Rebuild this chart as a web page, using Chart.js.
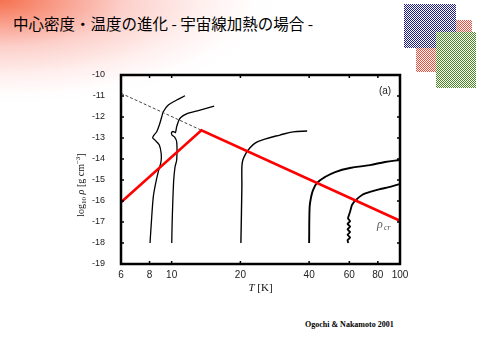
<!DOCTYPE html>
<html>
<head>
<meta charset="utf-8">
<script src="https://cdn.jsdelivr.net/npm/chart.js@4/dist/chart.umd.min.js"></script>
<style>
  html, body { margin: 0; padding: 0; background: #fff; }
  #wrap { position: relative; width: 480px; height: 360px; overflow: hidden; }
  .glow { position: absolute; left: 0; top: 0; width: 300px; height: 110px;
    background: radial-gradient(280px 105px at 0 0, rgba(245,105,70,0.95) 0%, rgba(247,130,105,0.8) 20%, rgba(250,170,160,0.55) 45%, rgba(253,205,200,0.3) 72%, rgba(255,235,235,0.1) 90%, rgba(255,255,255,0) 100%); }
  #title { position: absolute; left: 13px; top: 12px; font: 15.5px "Noto Sans CJK JP"; color: #000; white-space: nowrap; }
  #credit { position: absolute; left: 305px; top: 320px; font: bold 8px "Liberation Serif"; color: #000; white-space: nowrap; }
  canvas { position: absolute; left: 0; top: 0; }
</style>
</head>
<body>
<div id="wrap">
  <div class="glow"></div>
  <div id="title">中心密度・温度の進化 - 宇宙線加熱の場合 -</div>
  <div id="credit">Ogochi &amp; Nakamoto 2001</div>
  <canvas id="chart" width="480" height="360"></canvas>
</div>
<script>
// 軸
const xTicks = [6, 8, 10, 20, 40, 60, 80, 100];
const yTicks = [-19, -18, -17, -16, -15, -14, -13, -12, -11, -10];

// 臨界密度線 (赤) と点線
const critT = [6, 13.5, 100];
const critRho = [-16.06, -12.63, -16.94];
const dashT = [6, 13.5];
const dashRho = [-10.87, -12.63];

// 進化トラック (T [K], log rho)
const track8T = [8.04, 8.18, 8.31, 8.51, 8.74, 8.98, 9.0, 8.83, 8.45, 8.26, 8.37, 8.6, 8.83, 9.05, 9.19, 9.67, 10.52, 11.44];
const track8Rho = [-18.0, -16.75, -15.8, -15.16, -14.6, -14.13, -13.75, -13.33, -13.1, -12.99, -12.86, -12.7, -12.38, -11.99, -11.75, -11.43, -11.19, -10.99];

const track10T = [10.01, 10.04, 10.11, 10.21, 10.35, 10.52, 10.52, 10.29, 10.04, 9.98, 10.14, 10.38, 10.52, 10.88, 11.83, 13.31, 15.35];
const track10Rho = [-18.0, -17.22, -16.11, -15.0, -14.37, -14.05, -13.18, -12.95, -12.86, -12.76, -12.69, -12.74, -12.46, -12.06, -11.82, -11.67, -11.48];

const track20T = [20.1, 20.3, 20.3, 20.5, 21.2, 22.0, 23.2, 25.6, 29.8, 34.0, 39.2];
const track20Rho = [-18.0, -15.33, -14.38, -14.05, -13.71, -13.48, -13.24, -13.05, -12.86, -12.71, -12.67];

const track40T = [40.0, 40.2, 40.8, 41.6, 43.3, 46.9, 52.0, 60.4, 73.9, 86.0, 100];
const track40Rho = [-18.0, -16.29, -15.81, -15.48, -15.14, -14.86, -14.62, -14.43, -14.29, -14.14, -14.05];

const track60T = [59.4, 58.9, 60.5, 58.9, 60.5, 58.9, 60.5, 58.9, 60.5, 59.2, 60.4, 61.6, 64.2, 68.2, 73.9, 81.8, 90.5, 100];
const track60Rho = [-18.0, -17.87, -17.74, -17.61, -17.48, -17.35, -17.22, -17.09, -16.96, -16.83, -16.52, -16.19, -15.95, -15.71, -15.57, -15.43, -15.33, -15.19];

// 右上の飾り (x, y, w, h, 色)
const blocks = [
    [404, 4, 52, 44, '#1c1c8e'],
    [456, 20, 16, 12, '#f04a3a'],
    [416, 48, 20, 24, '#f04a3a'],
    [436, 32, 40, 56, '#4a8a22']
];

const pts = (xs, ys) => xs.map((v, i) => ({ x: v, y: ys[i] }));
const track = (xs, ys, w, t) => ({
    data: pts(xs, ys), borderColor: '#000', borderWidth: w, pointRadius: 0, tension: t, fill: false
});

Chart.defaults.font.family = '"Liberation Sans", Arial, sans-serif';

const checker = {
    id: 'checker',
    beforeDraw(chart) {
        const ctx = chart.ctx;
        ctx.save();
        blocks.forEach(([bx, by, bw, bh, c]) => {
            ctx.fillStyle = c;
            for (let j = 0; j < bh; j++)
                for (let i = (j % 2); i < bw; i += 2) ctx.fillRect(bx + i, by + j, 1, 1);
        });
        ctx.restore();
    }
};

// 枠・目盛・注記
const decor = {
    id: 'decor',
    afterDatasetsDraw(chart) {
        const { ctx, chartArea: a, scales: { x, y } } = chart;
        ctx.save();
        ctx.strokeStyle = '#000';
        ctx.lineWidth = 1.5;
        ctx.beginPath();
        xTicks.forEach(v => {
            const px = x.getPixelForValue(v);
            ctx.moveTo(px, a.bottom); ctx.lineTo(px, a.bottom - 3);
            ctx.moveTo(px, a.top); ctx.lineTo(px, a.top + 3);
        });
        yTicks.forEach(v => {
            const py = y.getPixelForValue(v);
            ctx.moveTo(a.left, py); ctx.lineTo(a.left + 3, py);
            ctx.moveTo(a.right, py); ctx.lineTo(a.right - 3, py);
        });
        ctx.stroke();
        ctx.lineWidth = 2.5;
        ctx.strokeRect(a.left, a.top, a.right - a.left, a.bottom - a.top);

        ctx.fillStyle = '#222';
        ctx.font = '10px "Liberation Sans"';
        ctx.textAlign = 'center';
        ctx.textBaseline = 'middle';
        ctx.fillText('(a)', a.right - 15, a.top + 16);

        // rho_cr
        ctx.fillStyle = '#555';
        ctx.textAlign = 'left';
        ctx.textBaseline = 'alphabetic';
        ctx.font = 'italic 12px "Liberation Serif"';
        ctx.fillText('ρ', 377, 228);
        ctx.font = 'italic 8px "Liberation Serif"';
        ctx.fillText('cr', 384, 230);

        // x title
        ctx.fillStyle = '#111';
        ctx.font = 'italic 11px "Liberation Serif"';
        const tW = ctx.measureText('T').width;
        ctx.font = '11px "Liberation Serif"';
        const kW = ctx.measureText(' [K]').width;
        const sx = (a.left + a.right) / 2 - (tW + kW) / 2;
        ctx.font = 'italic 11px "Liberation Serif"';
        ctx.fillText('T', sx, 291);
        ctx.font = '11px "Liberation Serif"';
        ctx.fillText(' [K]', sx + tW, 291);

        // y title
        ctx.translate(84, 185);
        ctx.rotate(-Math.PI / 2);
        const parts = [
            ['log', '10px "Liberation Serif"', 0],
            ['10', '7px "Liberation Serif"', 2],
            [' ', '10px "Liberation Serif"', 0],
            ['ρ', 'italic 10px "Liberation Serif"', 0],
            [' [g cm', '10px "Liberation Serif"', 0],
            ['−3', '7px "Liberation Serif"', -4],
            [']', '10px "Liberation Serif"', 0]
        ];
        let total = 0;
        parts.forEach(p => { ctx.font = p[1]; total += ctx.measureText(p[0]).width; });
        let cx = -total / 2;
        parts.forEach(p => {
            ctx.font = p[1];
            ctx.fillText(p[0], cx, p[2]);
            cx += ctx.measureText(p[0]).width;
        });
        ctx.restore();
    }
};

const fixBox = size => scale => {
    if (scale.isHorizontal()) scale.height = size; else scale.width = size;
    scale.paddingTop = scale.paddingBottom = scale.paddingLeft = scale.paddingRight = 0;
};

new Chart(document.getElementById('chart'), {
    type: 'line',
    data: {
        datasets: [
            { data: pts(critT, critRho), borderColor: '#f00', borderWidth: 2.6, pointRadius: 0, tension: 0, fill: false },
            { data: pts(dashT, dashRho), borderColor: '#444', borderWidth: 1, borderDash: [3, 2], pointRadius: 0, tension: 0, fill: false },
            track(track8T, track8Rho, 1.3, 0.3),
            track(track10T, track10Rho, 1.3, 0.3),
            track(track20T, track20Rho, 1.4, 0.35),
            track(track40T, track40Rho, 1.9, 0.35),
            track(track60T, track60Rho, 1.8, 0.1)
        ]
    },
    options: {
        responsive: false,
        animation: false,
        parsing: false,
        layout: { padding: { left: 0, top: 75, right: 80, bottom: 0 } },
        plugins: { legend: { display: false }, tooltip: { enabled: false } },
        scales: {
            x: {
                type: 'logarithmic', min: 6, max: 100,
                afterBuildTicks: s => { s.ticks = xTicks.map(v => ({ value: v })); },
                afterFit: fixBox(96),
                grid: { display: false, drawTicks: false },
                border: { display: false },
                ticks: { color: '#222', font: { size: 10 }, padding: 5, maxRotation: 0, autoSkip: false,
                    callback: v => String(v) }
            },
            y: {
                type: 'linear', min: -19, max: -10,
                afterBuildTicks: s => { s.ticks = yTicks.map(v => ({ value: v })); },
                afterFit: fixBox(121),
                grid: { display: false, drawTicks: false },
                border: { display: false },
                ticks: { color: '#222', font: { size: 9, family: '"Liberation Sans Narrow", "Liberation Sans", sans-serif' },
                    padding: 16, autoSkip: false, callback: v => String(v) }
            }
        }
    },
    plugins: [checker, decor]
});
</script>
</body>
</html>
